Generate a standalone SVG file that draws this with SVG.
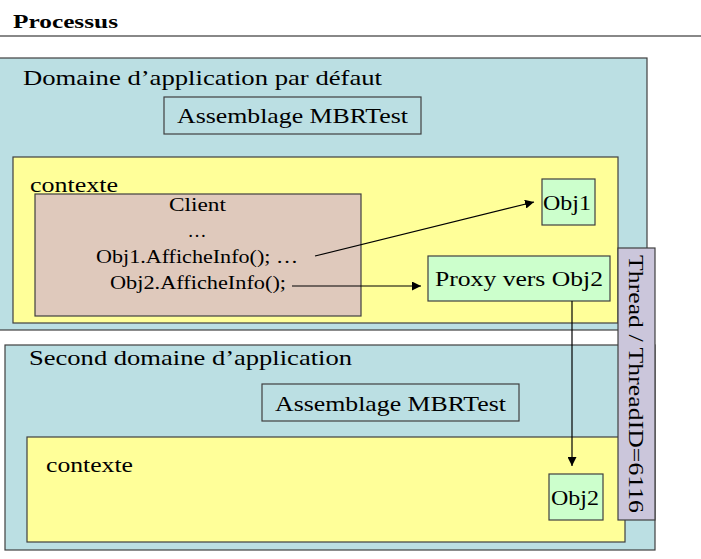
<svg xmlns="http://www.w3.org/2000/svg" width="701" height="559" viewBox="0 0 701 559">
<style>
text{font-family:"Liberation Serif","DejaVu Serif",serif;fill:#000}
.box{stroke:#404040;stroke-width:1.2}
.dom{fill:#BBDFE3}
.ctx{fill:#FFFF99}
.obj{fill:#CCFFCC}
.conn{stroke:#000;stroke-width:1.2;fill:none;marker-end:url(#ah)}
</style>
<defs>
<marker id="ah" viewBox="0 0 10 10" refX="10" refY="5" markerWidth="9" markerHeight="9" markerUnits="userSpaceOnUse" orient="auto">
<path d="M0,0 L10,5 L0,10 z" fill="#000"/>
</marker>
</defs>
<g id="header">
<text x="13" y="28" font-size="19" font-weight="bold" textLength="105" lengthAdjust="spacingAndGlyphs">Processus</text>
<line x1="0" y1="36" x2="701" y2="36" stroke="#606060" stroke-width="1.5"/>
</g>
<g id="domaine1">
<rect class="box dom" x="-1" y="58" width="648" height="272"/>
<text x="23" y="85" font-size="22" textLength="359" lengthAdjust="spacingAndGlyphs">Domaine d’application par défaut</text>
</g>
<g id="assemblage1">
<rect class="box dom" x="164" y="97" width="257" height="37"/>
<text x="177" y="123" font-size="22" textLength="231" lengthAdjust="spacingAndGlyphs">Assemblage MBRTest</text>
</g>
<g id="contexte1">
<rect class="box ctx" x="13" y="157" width="605" height="166"/>
<text x="30" y="192" font-size="20" textLength="88" lengthAdjust="spacingAndGlyphs">contexte</text>
</g>
<g id="client">
<rect class="box" fill="#DFC9BC" x="35" y="194" width="326" height="122"/>
<text x="169" y="211" font-size="19" textLength="57" lengthAdjust="spacingAndGlyphs">Client</text>
<text x="197" y="237" font-size="19" text-anchor="middle">…</text>
<text x="96" y="263" font-size="19" textLength="202" lengthAdjust="spacingAndGlyphs">Obj1.AfficheInfo(); …</text>
<text x="110" y="289" font-size="19" textLength="176" lengthAdjust="spacingAndGlyphs">Obj2.AfficheInfo();</text>
</g>
<g id="obj1">
<rect class="box obj" x="542" y="179" width="53" height="46"/>
<text x="543" y="210" font-size="20" textLength="48" lengthAdjust="spacingAndGlyphs">Obj1</text>
</g>
<g id="proxy">
<rect class="box obj" x="428" y="256" width="182" height="45"/>
<text x="435" y="286" font-size="21" textLength="168" lengthAdjust="spacingAndGlyphs">Proxy vers Obj2</text>
</g>
<g id="domaine2">
<rect class="box dom" x="5" y="345" width="650" height="205"/>
<text x="29" y="365" font-size="22" textLength="323" lengthAdjust="spacingAndGlyphs">Second domaine d’application</text>
</g>
<g id="assemblage2">
<rect class="box dom" x="262" y="384" width="257" height="37"/>
<text x="275" y="411" font-size="22" textLength="231" lengthAdjust="spacingAndGlyphs">Assemblage MBRTest</text>
</g>
<g id="contexte2">
<rect class="box ctx" x="27" y="437" width="598" height="105"/>
<text x="46" y="472" font-size="20" textLength="87" lengthAdjust="spacingAndGlyphs">contexte</text>
</g>
<g id="obj2">
<rect class="box obj" x="549" y="474" width="54" height="46"/>
<text x="551" y="505" font-size="20" textLength="48" lengthAdjust="spacingAndGlyphs">Obj2</text>
</g>
<g id="thread">
<rect class="box" fill="#CBC6DB" x="618" y="248" width="37" height="272"/>
<text transform="translate(629,255) rotate(90)" x="0" y="0" font-size="22" textLength="258" lengthAdjust="spacingAndGlyphs">Thread / ThreadID=6116</text>
</g>
<g id="connectors">
<line class="conn" x1="315" y1="256" x2="534" y2="202"/>
<line class="conn" x1="292" y1="286" x2="421" y2="286"/>
<line class="conn" x1="572" y1="301" x2="572" y2="466"/>
</g>
</svg>
